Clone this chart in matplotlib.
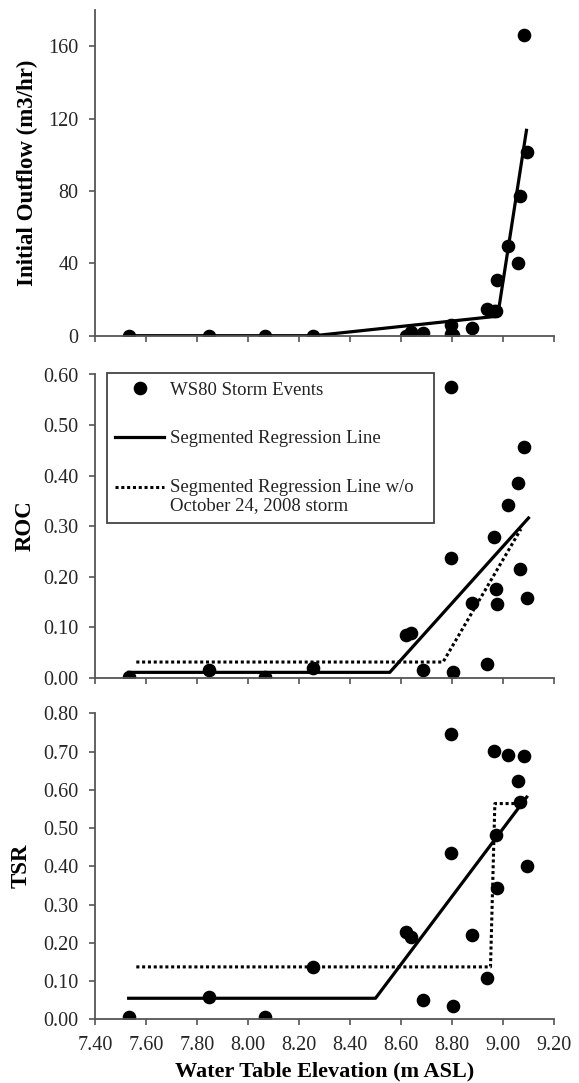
import numpy as np
import matplotlib
matplotlib.use("Agg")
import matplotlib.pyplot as plt

# water table elevation of each storm event (m ASL)
elev = [7.532, 7.848, 8.066, 8.255, 8.620, 8.640, 8.686, 8.795, 8.797, 8.803,
        8.877, 8.936, 8.966, 8.974, 8.976, 9.018, 9.057, 9.067, 9.081, 9.095]
outflow = [0, 0, 0, 0, 0, 2.2, 1.3, 5.9, 0.7, 0.5,
           4.0, 14.9, 13.6, 13.6, 30.6, 49.4, 40.2, 77, 166.4, 101.6]
roc = [0.002, 0.015, 0.002, 0.020, 0.084, 0.088, 0.015, 0.576, 0.236, 0.011,
       0.148, 0.027, 0.279, 0.175, 0.145, 0.342, 0.386, 0.216, 0.457, 0.157]
tsr = [0.007, 0.057, 0.007, 0.136, 0.227, 0.216, 0.050, 0.745, 0.435, 0.034,
       0.220, 0.109, 0.701, 0.483, 0.344, 0.691, 0.623, 0.568, 0.689, 0.400]

# segmented regression lines (break points)
out_seg_x = [7.532, 8.26, 8.979, 9.092]
out_seg_y = [0, 0, 10.8, 113.5]
roc_seg_x = [7.532, 8.556, 9.100]
roc_seg_y = [0.0106, 0.0106, 0.316]
roc_wo_x = [7.562, 8.765, 9.070]
roc_wo_y = [0.031, 0.031, 0.294]
tsr_seg_x = [7.532, 8.500, 9.093]
tsr_seg_y = [0.055, 0.055, 0.581]
tsr_wo_x = [7.562, 8.951, 8.968, 9.070]
tsr_wo_y = [0.137, 0.137, 0.564, 0.564]

x_ticks = np.arange(7.40, 9.201, 0.20)

plt.rcParams['font.family'] = ['Liberation Serif', 'DejaVu Serif']
plt.rcParams['text.color'] = '#222222'

W, H = 579, 1083
fig = plt.figure(figsize=(W / 100, H / 100), dpi=100)

def px_axes(top, bottom, left=95, right=554):
    return fig.add_axes([left / W, 1 - bottom / H, (right - left) / W, (bottom - top) / H])

ax1 = px_axes(10, 335.7)
ax2 = px_axes(374.5, 677.7)
ax3 = px_axes(713.3, 1019.3)

dot_kw = dict(marker='o', ls='none', color='black', ms=8.8)
dotted = (0, (1, 0.9))

ax1.plot(elev, outflow, **dot_kw)
ax1.plot(out_seg_x, out_seg_y, '-', color='black', lw=2.3)

ax2.plot(elev, roc, **dot_kw, label='WS80 Storm Events')
ax2.plot(roc_seg_x, roc_seg_y, '-', color='black', lw=2.3, label='Segmented Regression Line')
ax2.plot(roc_wo_x, roc_wo_y, color='black', lw=2.2, ls=dotted,
         label='Segmented Regression Line w/o\nOctober 24, 2008 storm')

ax3.plot(elev, tsr, **dot_kw)
ax3.plot(tsr_seg_x, tsr_seg_y, '-', color='black', lw=2.3)
ax3.plot(tsr_wo_x, tsr_wo_y, color='black', lw=2.2, ls=dotted)

ax1.set_ylim(0, 180)
ax1.set_yticks([0, 40, 80, 120, 160])
ax2.set_ylim(0, 0.60)
ax2.set_yticks(np.arange(0, 0.601, 0.10))
ax3.set_ylim(0, 0.80)
ax3.set_yticks(np.arange(0, 0.801, 0.10))

spine_c = '#555555'
for ax in (ax1, ax2, ax3):
    ax.set_xlim(7.40, 9.20)
    ax.set_xticks(x_ticks)
    for s in ('top', 'right'):
        ax.spines[s].set_visible(False)
    for s in ('left', 'bottom'):
        ax.spines[s].set_color(spine_c)
        ax.spines[s].set_linewidth(1.3)
    ax.tick_params(direction='out', length=4.5, width=1.2, color=spine_c,
                   labelsize=14.5, labelcolor='#262626', pad=7.5)
    ax.patch.set_alpha(0)

ax1.tick_params(axis='x', labelbottom=False)
ax2.tick_params(axis='x', labelbottom=False)
ax3.xaxis.set_major_formatter(matplotlib.ticker.FormatStrFormatter('%.2f'))
ax2.yaxis.set_major_formatter(matplotlib.ticker.FormatStrFormatter('%.2f'))
ax3.yaxis.set_major_formatter(matplotlib.ticker.FormatStrFormatter('%.2f'))

lab_kw = dict(fontsize=16.5, fontweight='bold')
ax1.set_ylabel('Initial Outflow (m3/hr)', **lab_kw)
ax2.set_ylabel('ROC', **lab_kw)
ax3.set_ylabel('TSR', **lab_kw)
ax1.yaxis.set_label_coords(-0.124, 0.5)
ax2.yaxis.set_label_coords(-0.129, 0.5)
ax3.yaxis.set_label_coords(-0.137, 0.5)
ax3.set_xlabel('Water Table Elevation (m ASL)', labelpad=5, fontsize=16, fontweight='bold')

leg = ax2.legend(loc='upper left', bbox_to_anchor=(0.0255, 1.004, 0.712, 0), mode='expand',
                 fontsize=13.5, frameon=True, fancybox=False, framealpha=1,
                 edgecolor='#444444', borderpad=0.45, labelspacing=1.67,
                 handlelength=2.6, handletextpad=0.3, borderaxespad=0)
leg.get_frame().set_linewidth(1.3)
for t in leg.get_texts():
    t.set_linespacing(1.15)

# line up the dotted sample with the first line of its two-line label
dot_handle = leg.get_lines()[2]
dot_handle.set_ydata(np.asarray(dot_handle.get_ydata()) + 6.5)

fig.savefig('out.png', dpi=100)
